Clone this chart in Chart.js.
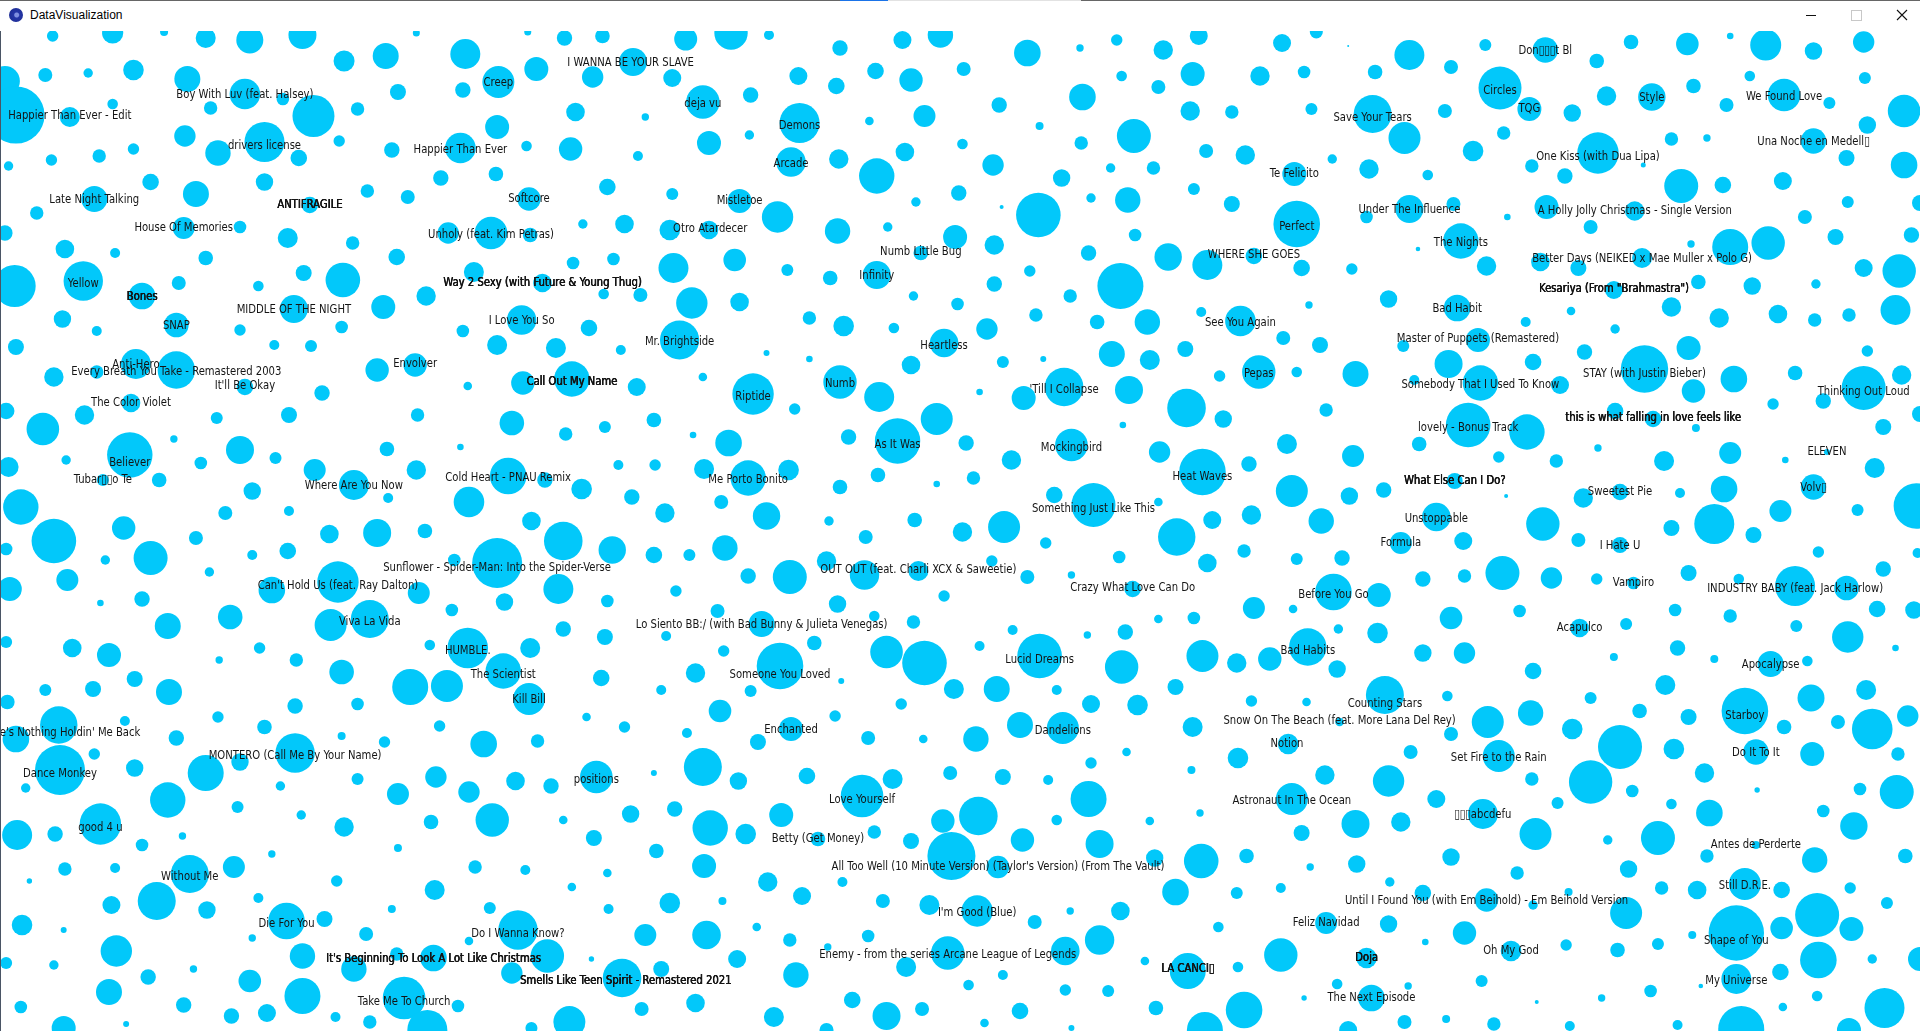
<!DOCTYPE html>
<html>
<head>
<meta charset="utf-8">
<title>DataVisualization</title>
<script src="https://cdn.jsdelivr.net/npm/chart.js@4.4.0/dist/chart.umd.min.js"></script>
<style>
html,body{margin:0;padding:0;background:#fff;overflow:hidden;width:1920px;height:1031px;}
#titlebar{position:absolute;left:0;top:0;width:1920px;height:31px;background:#fff;}
.tl{position:absolute;top:0;height:1px;}
#icon{position:absolute;left:9px;top:8px;width:14px;height:14px;border-radius:50%;
  background:radial-gradient(circle at 55% 50%, #7f8fe0 0 2px, #2536a8 3px, #1b2a8c 100%);}
#title{position:absolute;left:30px;top:7px;font:12px "Liberation Sans",Arial,sans-serif;color:#000;line-height:16px;}
#minb{position:absolute;left:1806px;top:15px;width:10px;height:1px;background:#111;}
#maxb{position:absolute;left:1851px;top:10px;width:9px;height:9px;border:1px solid #c8c8c8;}
#closeb{position:absolute;left:1896px;top:9px;width:12px;height:12px;}
#chartWrap{position:absolute;left:0;top:31px;width:1920px;height:1000px;}
#leftline{position:absolute;left:0;top:31px;width:1px;height:1000px;background:#4a5565;}
</style>
</head>
<body>
<div id="titlebar">
  <div class="tl" style="left:0;width:840px;background:#666;"></div>
  <div class="tl" style="left:840px;width:48px;background:#1a73e8;"></div>
  <div class="tl" style="left:888px;width:193px;background:#e2e2e2;"></div>
  <div class="tl" style="left:1081px;width:839px;background:#666;"></div>
  <div id="icon"></div>
  <div id="title">DataVisualization</div>
  <div id="minb"></div>
  <div id="maxb"></div>
  <svg id="closeb" viewBox="0 0 12 12"><path d="M1 1 L11 11 M11 1 L1 11" stroke="#111" stroke-width="1.1" fill="none"/></svg>
</div>
<div id="chartWrap"><canvas id="c" width="1920" height="1000" style="width:1920px;height:1000px;display:block"></canvas></div>
<div id="leftline"></div>
<script>
// ---- bubble positions (x: layout units 0..1568, y: layout units 31..1031) and sizes ----
const bubbleX = [
// region 1
43,92,134,168,204,247,281,315,380,340,
431,461,492,438,407,378,325,484,517,4,
13,37,72,109,153,200,231,92,172,57,
256,292,406,470,151,216,178,244,277,320,
376,430,466,521,7,42,81,109,123,160,
216,300,333,360,405,432,496,77,30,253,
4,150,196,235,288,324,401,366,433,476,
510,53,94,168,12,68,116,146,211,248,
280,240,313,348,387,443,468,501,493,523,
51,79,144,196,279,378,426,481,
// region 2
560,597,628,686,737,768,839,882,912,950,
979,1047,549,574,613,652,683,715,744,787,
816,884,916,946,974,1029,527,653,710,755,
849,972,1006,926,883,579,612,646,685,716,
739,786,811,867,907,942,985,1017,549,604,
635,684,748,783,818,848,891,921,975,1006,
547,579,725,780,812,927,889,954,986,1024,
550,600,643,678,752,716,841,812,874,915,
565,604,746,782,661,689,730,806,846,896,
937,981,1013,555,771,908,968,
// region 3
1075,1151,1101,1213,1262,1332,1378,1413,1442,1481,
1522,1065,1123,1185,1225,1249,1304,1312,1349,1383,
1284,1410,1429,1457,1494,1523,1555,1071,1121,1180,
1147,1228,1203,1088,1057,1118,1166,1251,1278,1305,
1342,1365,1394,1373,1407,1481,1508,1525,1555,1456,
1059,1151,1116,1187,1231,1263,1335,1299,1474,1509,
1568,1193,1158,1214,1063,1104,1258,1289,1341,1381,
1413,1444,1499,1561,1522,1551,1387,1431,1483,1318,
1134,1069,1190,1283,1365,1404,1452,1482,1510,1548,
1246,1319,1048,1078,1207,1379,
// region 4
13,224,254,406,454,507,44,79,111,144,
200,107,5,69,35,177,236,263,308,339,
382,341,427,467,520,418,462,494,316,376,
415,445,475,505,516,383,340,317,289,257,
225,196,164,142,106,54,7,84,130,206,
184,236,17,44,5,101,86,123,160,206,
235,269,308,347,434,460,500,371,406,171,
55,8,222,276,342,412,456,496,116,82,
188,137,270,302,369,460,494,5,59,89,
212,242,179,279,351,382,433,491,411,335,
365,138,76,110,37,
// region 5
626,661,744,819,852,939,1028,996,574,615,
686,718,649,534,566,595,765,800,836,869,
922,969,999,917,693,733,789,875,947,535,
575,611,644,717,765,795,826,982,1020,686,
589,543,626,677,747,786,820,861,893,946,
961,990,1022,707,854,534,563,592,675,706,
750,810,839,875,914,986,1016,611,645,552,
684,771,925,1024,586,622,714,746,946,975,
827,888,919,544,665,591,724,755,800,849,
916,982,1010,1037,568,637,687,540,613,779,
814,863,960,
// region 6
1146,1294,1343,1525,1183,1252,1059,1107,1209,1155,
1274,1416,1383,1466,1522,1553,1489,1448,1568,1083,
1319,1350,1385,1199,1247,1051,1159,1105,1224,1271,
1305,1359,1413,1458,1538,1492,1531,1055,1102,1130,
1188,1230,1293,1323,1372,1408,1481,1565,1517,1454,
1079,1173,1260,1365,1400,1432,1144,1195,1289,1323,
1485,1566,1059,1096,1227,1196,1162,1267,1304,1334,
1379,1420,1466,1508,1538,1089,1126,1056,1185,1241,
1290,1328,1368,1413,1467,1533,1563,1509,1093,1125,
1068,1162,1196,1092,1252,1318,1370,1400,1446,1476,
1548,1131,1360,1479,1524,
// region 7
6,48,13,102,178,216,241,292,359,144,
279,314,395,439,479,510,432,49,77,110,
168,241,196,21,137,229,292,325,356,383,
421,450,487,194,246,281,352,402,460,485,
515,14,45,82,116,149,222,325,24,53,
94,155,191,275,355,388,429,467,496,128,
91,169,211,18,52,234,265,206,299,320,
400,423,383,497,95,44,5,247,158,121,
289,324,354,447,418,483,508,204,89,247,
330,374,17,150,189,218,52,103,274,302,
349,434,465,524,
// region 8
1022,588,561,646,619,682,736,709,754,797,
833,868,891,929,974,1011,574,534,603,659,
704,729,776,819,856,891,920,973,889,551,
638,580,609,668,714,744,770,799,777,835,
863,898,939,980,815,536,575,943,981,1018,
627,688,547,590,655,721,759,798,960,1010,
1046,874,915,845,527,577,618,645,709,676,
774,870,898,995,602,540,650,740,819,791,
935,970,1011,870,905,568,632,696,724,753,
833,804,944,984,1016,675,875,
// region 9
1067,1182,1215,1250,1299,1339,1379,1425,1457,1501,
1529,1558,1284,1323,1367,1434,1480,1550,1052,1094,
1185,1152,1224,1299,1251,1333,1392,1435,1519,1549,
1082,1134,1055,1173,1272,1365,1396,1489,1211,1107,
1144,1063,1254,1354,1313,1514,1434,1394,1482,1556,
1185,1070,1108,1239,1330,1135,1357,1386,1425,1455,
1511,1541,1162,1214,1281,1252,1328,1484,1455,1512,
1418,1382,1083,1134,1196,1164,1046,1116,1234,1279,
1321,1354,1485,1454,1529,1568,1418,1389,1092,1150,
1210,1348,1120,1065,1255,1308,1484,1456,1539,1101,
1147,1181,1220,1282,1370,1422,1510
];

const bubbleY = [
// region 1
36,33,32,38,40,35,61,56,54,33,
32,38,36,69,82,90,92,77,62,81,
115,75,73,70,79,94,99,104,108,117,
116,109,127,112,136,142,153,158,141,150,
148,146,149,156,166,160,156,149,182,194,
182,191,197,178,174,199,187,199,213,205,
233,228,227,238,243,257,233,233,235,224,
224,249,253,258,286,281,296,283,286,273,
280,309,307,296,272,283,263,259,294,295,
319,331,325,330,327,331,320,328,
// region 2
39,33,35,48,40,35,53,48,40,50,
36,43,78,102,95,76,86,71,80,69,
105,97,76,87,74,76,117,123,121,116,
126,111,112,136,143,143,135,162,159,176,
152,144,165,178,168,168,151,155,194,201,
217,231,202,193,207,215,198,200,189,204,
230,230,227,237,245,235,253,257,265,256,
268,260,270,278,253,275,271,284,296,286,
303,302,296,304,318,326,328,329,315,322,
322,312,321,340,343,354,349,
// region 3
32,55,46,45,50,42,44,36,45,51,
42,72,72,67,88,109,61,96,97,86,
113,105,76,95,103,78,111,109,114,111,
138,133,151,159,174,169,175,166,176,153,
165,139,138,186,185,141,158,125,165,181,
224,209,217,204,217,207,211,227,217,202,
203,241,249,266,268,269,262,268,258,244,
247,243,237,235,268,271,282,286,284,290,
299,305,308,311,307,318,314,320,315,310,
322,329,338,345,340,348,
// region 4
347,345,346,345,348,350,377,372,364,370,
387,403,411,415,429,418,415,393,370,365,
386,415,383,379,387,423,434,427,449,447,
476,480,489,465,497,502,470,498,485,470,
458,450,463,439,455,460,467,480,480,491,
513,511,507,541,549,528,560,558,538,555,
551,534,533,531,521,541,550,560,563,572,
580,589,590,582,593,602,589,601,599,603,
617,626,625,619,610,629,637,642,648,655,
648,660,660,672,645,648,648,678,671,687,
686,692,689,679,690,
// region 5
353,359,365,362,359,360,372,376,377,394,
382,397,409,420,435,443,419,392,398,387,
390,408,419,425,437,441,443,445,452,465,
469,478,470,475,484,478,460,472,464,487,
502,513,516,521,520,532,527,495,505,502,
537,520,515,537,543,555,555,548,561,575,
571,561,577,575,557,563,551,576,577,591,
604,596,589,608,611,624,616,622,619,618,
630,635,632,636,643,651,652,663,646,656,
667,656,663,659,673,666,681,690,691,689,
689,690,687,
// region 6
346,352,369,351,364,362,372,374,383,380,
385,379,391,373,388,375,401,404,414,410,
411,419,428,425,432,444,444,456,457,461,
448,461,453,460,427,452,468,491,496,490,
481,496,498,492,493,489,487,506,510,511,
521,517,524,528,524,535,543,541,540,545,
552,553,559,558,573,576,579,578,579,583,
573,579,586,588,569,592,595,609,618,611,
628,624,610,616,626,609,610,637,629,633,
647,653,653,669,671,657,648,659,664,661,
648,695,685,698,690,
// region 7
702,725,739,721,717,727,706,704,726,738,
736,742,744,741,717,727,699,770,754,768,
773,753,762,788,800,786,779,794,777,792,
781,786,777,807,815,827,822,820,820,838,
814,835,834,824,845,836,854,848,881,869,
868,874,867,881,890,867,870,887,873,901,
905,910,898,925,930,921,919,938,934,909,
908,930,941,909,951,965,963,956,969,977,
969,954,958,956,973,959,978,981,992,996,
998,1006,1007,1005,1016,1013,1028,1024,1017,1022,
1030,1028,1022,1009,
// region 8
701,711,733,729,742,716,704,738,739,739,
725,728,704,705,727,758,767,773,781,776,
796,779,773,777,780,763,752,770,799,809,
815,828,834,839,832,841,821,816,856,840,
820,844,821,813,867,851,866,858,861,856,
882,882,903,901,896,901,905,911,892,893,
888,911,911,922,935,935,927,940,936,947,
953,951,940,927,959,969,975,967,975,985,
961,971,967,990,991,1003,1017,1000,1016,1009,
1011,1023,1008,1030,1010,1030,1028,
// region 9
702,696,722,713,698,711,717,711,727,722,
729,716,729,747,749,752,754,754,744,722,
734,752,756,782,779,791,773,790,789,792,
775,781,799,799,803,804,813,811,814,824,
822,833,834,838,840,826,845,856,860,856,
857,867,864,873,869,882,888,890,884,890,
888,903,893,900,892,905,913,915,928,929,
933,935,923,924,933,942,955,958,951,945,
950,944,960,972,959,959,979,986,984,986,
981,991,998,998,1002,998,996,1007,1008,1030,
1022,1019,1024,1026,1025,1029,1030
];

const bubbleSize = [
// region 1
5.7,10.6,4,10,13.5,14,10.5,13,15,3.5,
3.5,7.7,7.3,12,16,7.7,8,10.7,14,15,
28.6,7,4.7,10.3,13,15.3,6.3,5.3,6.7,10,
21,6.7,12,9.3,10.7,20,12.7,8.3,5.7,7.7,
15.3,5.3,11.7,5,4.7,5.7,6.7,5.7,8.3,13,
8.7,6.7,7,7.7,7.3,11.7,8.3,13,6.7,8.3,
7.7,11,6.3,10,6.7,8.3,16.3,10.7,7.3,4.7,
9.3,9.3,5,7.3,21,19.7,13.3,7,5.3,8,
17.3,14,12,9.7,10,9.3,6.3,6.3,5.3,7,
8.7,5,12.3,5.7,6.3,6.3,14.7,8.3,
// region 2
11.5,16.7,5,7.7,9,12.7,13.3,3.7,5.7,9.7,
9,9,9,16.7,7.7,9,8.3,8.3,11.7,7,
7.7,13.3,5.3,7,12,9.7,3.7,20,4.3,11,
4,9.7,6.7,17,6.7,12,4.7,14.7,9.7,17.7,
9.3,5.3,10.7,8.7,4.7,6.7,7,9.7,6,12,
15.7,12.7,4.7,7.7,2,22.3,4.7,12.7,6,8,
10.3,9.3,4.7,12,9.7,6.3,7.7,13.7,15,8.3,
15,11.3,6,7.3,7.3,14,5.7,7.7,6.7,23,
15.7,9.3,4.7,6.3,6.7,10.3,5.3,10.7,6.7,7.3,
12.7,5,15.3,19.6,14.3,13,8,
// region 3
6.5,15,1,6,12.7,7.3,11.3,3.3,15.5,8.7,
10.7,6.3,7.3,7,21.5,12,7.3,9.7,13.7,7.3,
8.7,7,5.3,16.3,6,6,16.3,6,19,7,
16,6.7,10.3,4.7,12,9.7,5.3,6.7,7.7,20.7,
2.5,6.7,3.7,17,8.3,12.7,8,8.7,13.3,9,
23.3,14,6.3,7,3.3,12,9.7,7,7,6,
8,17.7,2.3,9.7,8.3,5.7,9.3,8,10,3.7,
18,16.7,8,7.7,9,16.7,7.3,8.7,4.7,9,
8.7,3.7,13.3,4.3,9.7,9.7,9.3,6.7,6.7,15,
5,4.7,7,8,12,12,
// region 4
8,5,6,10,10,5,9.7,6.7,15,18.7,
8.3,9.3,8.3,9.7,16.3,6,8,7.7,11.7,11.7,
4.3,6.7,11.7,17.7,9,12.3,6.7,6,7.3,3.3,
18.3,7.7,10.3,5,7.7,15.3,9.7,5,15,11,
6,14,6.3,3.7,22.7,4.7,10,6,7.3,8.7,
7,5,17.7,22.3,6.3,11.7,4.7,17,7,5,
8.3,9.3,14,7.3,9.3,19.3,13.7,6.3,25,4.7,
11,12,13.3,20.7,11,8.7,15,6.3,7.7,3.3,
12.3,13,16,19,6.3,7.7,8,6,9.3,12,
5.7,6.7,3.7,12.3,5.3,20.3,10,8.3,17.7,18,
16,13,8,8,6,
// region 5
3,3.3,9.3,6,3,10,16.7,5.7,4.3,20.7,
16.7,15,5.7,7.3,3.3,13.3,16,3.3,12,19.3,
14,19.3,8.7,3.3,7.7,22.7,7.7,16.3,10.7,5.7,
10,17.7,10.3,7.3,3.3,6.7,9.7,23.3,7.7,7.3,
7,9.7,13.7,4.7,7.3,9.7,16,8.3,22,4.3,
18.7,9,9.7,7,5.7,8.3,6,12.7,9.7,14.7,
10,5.7,7,3.7,6.3,9.3,6.7,7.7,17,5.7,
8.7,5.7,8.3,11,7,13,5.3,6.7,4.3,6.3,
5,3.7,7.7,5,7.3,5.7,16.3,22.3,5,22.3,
16.7,16,9.7,11.7,9.7,23.3,3,5,6,10,
13,5,8,
// region 6
6,7.7,23.7,5.7,14,8.3,5.3,13,17.7,5,
9,13.3,11.7,7.3,22,9.7,7.7,5.7,8,6.7,
8.3,8.3,4,22.3,17.7,10,7.3,11,5.7,6.7,
3.7,10,11,3.3,8,3,10,16,8.7,7.7,
8,2,9.7,8.3,5,13.3,12.7,22.7,6,11,
12.7,14.3,16.7,8,20,8,11,9,7,8,
5.7,5,6,7.7,17,6.7,7.7,10.7,5.7,6.3,
8,5.3,20,12.3,7.7,18.3,12,4.3,11.3,6.3,
9.3,6,6.3,6.7,6,8.3,8.7,15.7,4.7,10.3,
18.7,8.7,10.7,8.7,8.3,4,7.7,4,13,5.3,
3.3,19,10,13.5,10,
// region 7
7.3,18.7,13.3,5,5.7,7.3,7.7,6.3,5.7,7.7,
4,5.7,13.3,6.7,4.3,5.7,16,25,5.7,8.7,
18,19.7,8.7,4.7,17.7,4.7,6,11,10.7,10.7,
9.3,7.7,16.3,6,4.7,9.7,7.3,16.7,4.3,8,
8.7,15,7.7,20.7,6.3,3.7,3.7,4,2.7,6.7,
5,19,11,5.7,10,6.7,5,4.3,4.3,19,
9,8.7,5,10.3,3,18.3,8,3.7,7,4,
6,19.7,4.3,5,15.7,4.7,6,12.7,3.7,7.7,
12.7,6.7,13.3,16.7,10.7,2.7,19.3,11.3,13,18,
21.3,6.3,6.3,7.7,7.7,9,12,3,5,6.7,
20,6,16,7,
// region 8
5.7,11.3,5,12,8,5.7,5.7,7,4.3,12.7,
13,16,9,10.3,10,10.3,19,3,8.7,8.3,
21.3,10,7,8,5,5.7,4.3,4,18,7.7,
12,17.7,10.3,7.3,6.7,8,11.7,19.3,24,11.7,
5.3,14,4.3,3.7,11.3,7.3,12,8.7,17.3,7.3,
9.7,5,10.3,4,9,7,10,15.7,13.3,6,
5,3.7,9.3,7,11,14.3,4.3,6.7,6.3,3.7,
16.7,14.3,14.7,5.3,9,8,12.7,10,5,5.3,
4.3,18,5.3,5.7,6,9.3,10,8.3,14,7,
8.3,4.3,7.3,18,18.3,7,3,
// region 9
4.3,5.3,16,12.7,6,7.3,8,23.3,7.3,7,
20.3,10.7,10.3,22,10.3,12.7,12,6.7,10.3,4.3,
7,7,16,21.7,6.7,6.3,9.7,2.7,6.3,17,
9.7,15.7,16,9,6,5.3,13.3,6.3,15,14,
9.7,8,16,17,4.7,13.7,4,6.7,12.7,7.3,
8.7,3.7,8.7,6.7,8.7,4.7,6.7,9.3,16,8.3,
5.7,6,8.3,11.7,4,4.7,16,22,11.3,12,
27.7,4,11,8.7,11.7,3.3,16.7,10.3,10.3,5.7,
7.3,6,18.3,8.3,4.7,12,15,2.3,5.3,3.7,
6,6.3,13.3,2.7,2,3.7,5.3,4.3,20,9,
7,4,6.7,5,5,23,12
];

// ---- song titles shown on the chart ----
const B = '\u25AF';
const labelText = [
"Happier Than Ever - Edit","Boy With Luv (feat. Halsey)","Creep","I WANNA BE YOUR SLAVE","drivers license",
"Happier Than Ever","Late Night Talking","ANTIFRAGILE","Softcore","House Of Memories",
"Unholy (feat. Kim Petras)","Yellow","Bones","MIDDLE OF THE NIGHT","Way 2 Sexy (with Future & Young Thug)",
"SNAP","I Love You So","deja vu","Demons","Arcade",
"Mistletoe","Otro Atardecer","Numb Little Bug","Infinity","WHERE SHE GOES",
"See You Again","Mr. Brightside","Heartless","Don"+B+B+B+"t Bl","Circles",
"TQG","Style","We Found Love","Save Your Tears","One Kiss (with Dua Lipa)",
"Una Noche en Medell"+B,"Te Felicito","Under The Influence","A Holly Jolly Christmas - Single Version","Perfect",
"The Nights","Better Days (NEIKED x Mae Muller x Polo G)","Kesariya (From \"Brahmastra\")","Bad Habit","Master of Puppets (Remastered)",
"Anti-Hero","Every Breath You Take - Remastered 2003","It'll Be Okay","The Color Violet","Envolver",
"Call Out My Name","Believer","Tubar"+B+B+"o Te","Where Are You Now","Cold Heart - PNAU Remix",
"Sunflower - Spider-Man: Into the Spider-Verse","Can't Hold Us (feat. Ray Dalton)","Viva La Vida","HUMBLE.","The Scientist",
"Pepas","Riptide","Numb","'Till I Collapse","As It Was",
"Mockingbird","Me Porto Bonito","Heat Waves","Something Just Like This","OUT OUT (feat. Charli XCX & Saweetie)",
"Crazy What Love Can Do","Lo Siento BB:/ (with Bad Bunny & Julieta Venegas)","Lucid Dreams","Someone You Loved","STAY (with Justin Bieber)",
"Somebody That I Used To Know","Thinking Out Loud","this is what falling in love feels like","lovely - Bonus Track","ELEVEN",
"What Else Can I Do?","Sweetest Pie","Volv"+B,"Unstoppable","Formula",
"I Hate U","Vampiro","INDUSTRY BABY (feat. Jack Harlow)","Before You Go","Acapulco",
"Bad Habits","Apocalypse","Counting Stars","There's Nothing Holdin' Me Back","Kill Bill",
"Dance Monkey","MONTERO (Call Me By Your Name)","positions","good 4 u","Without Me",
"Die For You","Do I Wanna Know?","It's Beginning To Look A Lot Like Christmas","Smells Like Teen Spirit - Remastered 2021","Take Me To Church",
"Enchanted","Dandelions","Love Yourself","Betty (Get Money)","All Too Well (10 Minute Version) (Taylor's Version) (From The Vault)",
"I'm Good (Blue)","Enemy - from the series Arcane League of Legends","LA CANCI"+B,"Starboy","Do It To It",
"Notion","Snow On The Beach (feat. More Lana Del Rey)","Set Fire to the Rain","Astronaut In The Ocean",B+B+B+"abcdefu",
"Antes de Perderte","Still D.R.E.","Until I Found You (with Em Beihold) - Em Beihold Version","Shape of You","Feliz Navidad",
"Doja","Oh My God","My Universe","The Next Episode"
];
const labelX = [
57,200,407,515,216, 376,77,253,432,150,
401,68,116,240,443, 144,426,574,653,646,
604,580,752,716,1024, 1013,555,771,1262,1225,
1249,1349,1457,1121,1305, 1481,1057,1151,1335,1059,
1193,1341,1318,1190,1207, 111,144,200,107,339,
467,106,84,289,415, 406,276,302,382,411,
1028,615,686,869,733, 875,611,982,893,750,
925,622,849,637,1343, 1209,1522,1350,1199,1492,
1188,1323,1481,1173,1144, 1323,1334,1466,1089,1290,
1068,1446,1131,48,432, 49,241,487,82,155,
234,423,354,511,330, 646,868,704,668,815,
798,774,970,1425,1434, 1051,1094,1224,1055,1211,
1434,1425,1214,1418,1083, 1116,1234,1418,1120
];
const labelY = [
116,95,83,63,146, 150,200,205,199,228,
235,284,297,310,283, 326,321,104,126,164,
201,229,252,276,255, 323,342,346,51,91,
109,98,97,118,157, 142,174,210,211,227,
243,259,289,309,339, 365,372,386,403,364,
382,463,480,486,478, 568,586,622,651,675,
374,397,384,390,445, 448,480,477,509,570,
588,625,660,675,374, 385,392,418,428,452,
481,492,488,519,543, 546,583,589,595,628,
651,665,704,733,700, 774,756,780,828,877,
924,934,959,981,1002, 730,731,800,839,867,
913,955,969,716,753, 744,721,758,801,815,
845,886,901,941,923, 958,951,981,998
];
const labelBold = [
0,0,0,0,0, 0,0,1,0,0,
0,0,1,0,1, 0,0,0,0,0,
0,0,0,0,0, 0,0,0,0,0,
0,0,0,0,0, 0,0,0,0,0,
0,0,1,0,0, 0,0,0,0,0,
1,0,0,0,0, 0,0,0,0,0,
0,0,0,0,0, 0,0,0,0,0,
0,0,0,0,0, 0,0,1,0,0,
1,0,0,0,0, 0,0,0,0,0,
0,0,0,0,0, 0,0,0,0,0,
0,0,1,1,0, 0,0,0,0,0,
0,0,1,0,0, 0,0,0,0,0,
0,0,0,0,0, 1,0,0,0
];

if (bubbleX.length !== bubbleY.length || bubbleX.length !== bubbleSize.length) {
  console.error('bubble arrays differ', bubbleX.length, bubbleY.length, bubbleSize.length);
}
if (labelText.length !== labelX.length || labelText.length !== labelY.length || labelText.length !== labelBold.length) {
  console.error('label arrays differ', labelText.length, labelX.length, labelY.length, labelBold.length);
}

const points = bubbleX.map((v, i) => ({ x: v, y: bubbleY[i], r: bubbleSize[i] }));

const songLabels = {
  id: 'songLabels',
  afterDatasetsDraw(chart) {
    const { ctx, chartArea, scales } = chart;
    ctx.save();
    ctx.beginPath();
    ctx.rect(chartArea.left, chartArea.top, chartArea.right - chartArea.left, chartArea.bottom - chartArea.top);
    ctx.clip();
    ctx.font = '13px "Liberation Sans Narrow", "DejaVu Sans Condensed", sans-serif';
    ctx.textAlign = 'center';
    ctx.textBaseline = 'middle';
    ctx.fillStyle = '#141414';
    const squeeze = 0.86;
    for (let i = 0; i < labelText.length; i++) {
      const px = scales.x.getPixelForValue(labelX[i]);
      const py = scales.y.getPixelForValue(labelY[i]);
      ctx.save();
      ctx.translate(px, py);
      ctx.scale(squeeze, 1);
      ctx.fillText(labelText[i], 0, 0);
      if (labelBold[i]) { ctx.fillText(labelText[i], 0.5, 0); ctx.fillText(labelText[i], 0, 0); }
      ctx.restore();
    }
    ctx.restore();
  }
};

new Chart(document.getElementById('c'), {
  type: 'bubble',
  data: {
    datasets: [{
      data: points,
      backgroundColor: 'rgb(2,200,250)',
      borderWidth: 0,
      hoverRadius: 0,
      hoverBorderWidth: 0
    }]
  },
  options: {
    responsive: false,
    devicePixelRatio: 1,
    animation: false,
    events: [],
    layout: { padding: 0, autoPadding: false },
    plugins: { legend: { display: false }, tooltip: { enabled: false }, title: { display: false } },
    scales: {
      x: { type: 'linear', min: 0, max: 1568, display: false },
      y: { type: 'linear', min: 31, max: 1031, reverse: true, display: false }
    }
  },
  plugins: [songLabels]
});
</script>
</body>
</html>
